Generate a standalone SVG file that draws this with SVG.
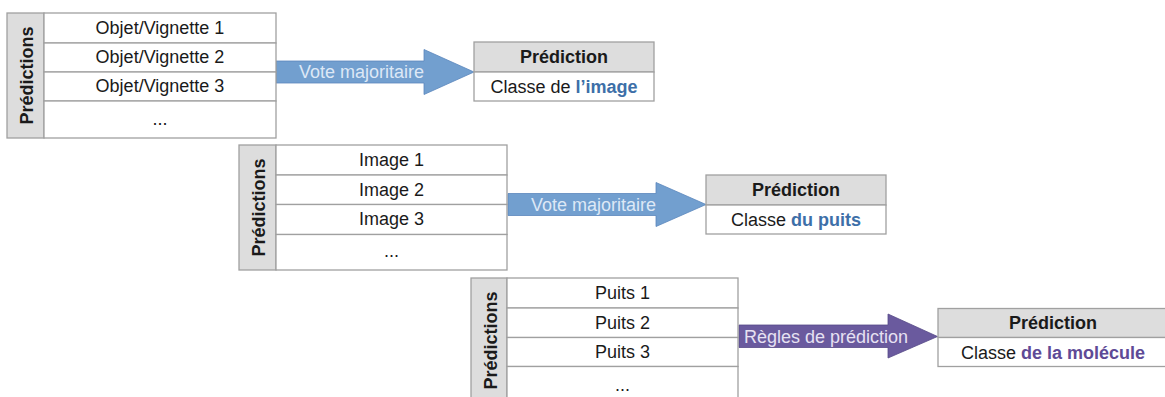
<svg xmlns="http://www.w3.org/2000/svg" width="1165" height="397" viewBox="0 0 1165 397">
<style>
text{font-family:"Liberation Sans",Arial,sans-serif;font-size:18px;fill:#1a1a1a}
.side{fill:#dddddd;stroke:#a0a0a0;stroke-width:1.3}
.cell{fill:#ffffff;stroke:#a0a0a0;stroke-width:1.3}
.hdr{fill:#dddddd;stroke:#a0a0a0;stroke-width:1.3}
.b{font-weight:bold}
.m{text-anchor:middle}
.blue{fill:#3d6fa8;font-weight:bold}
.purp{fill:#5e4a96;font-weight:bold}
.arrB{fill:#729fcf;stroke:#5a87bd;stroke-width:0.8}
.arrP{fill:#6a5a9e;stroke:#574a88;stroke-width:0.8}
.alB{fill:#dde8f6}
.alP{fill:#e6e1f2}
</style>
<g id="connectors">
<path class="arrB" d="M276,61 H424 V49.5 L474,72 L424,94.5 V83 H276 Z"/>
<text class="alB" x="299" y="78">Vote majoritaire</text>
<path class="arrB" d="M508,193.5 H656 V182.5 L706,204.5 L656,226.5 V215.5 H508 Z"/>
<text class="alB" x="531" y="210.5">Vote majoritaire</text>
<path class="arrP" d="M739,325 H888 V314 L937.5,336.5 L888,358 V347.5 H739 Z"/>
<text class="alP" x="744" y="342.5">Règles de prédiction</text>
</g>
<g id="table1">
<rect class="side" x="7" y="13" width="37" height="125"/>
<rect class="cell" x="44" y="13" width="232" height="30"/>
<rect class="cell" x="44" y="43" width="232" height="29"/>
<rect class="cell" x="44" y="72" width="232" height="29"/>
<rect class="cell" x="44" y="101" width="232" height="37"/>
<text class="b m" transform="translate(32.5,75.5) rotate(-90)">Prédictions</text>
<text class="m" x="160" y="33.5">Objet/Vignette 1</text>
<text class="m" x="160" y="63">Objet/Vignette 2</text>
<text class="m" x="160" y="92">Objet/Vignette 3</text>
<text class="m" x="160" y="125">...</text>
</g>
<g id="pred1">
<rect class="hdr" x="474" y="42" width="180" height="30"/>
<rect class="cell" x="474" y="72" width="180" height="29"/>
<text class="b m" x="564" y="62.5">Prédiction</text>
<text class="m" x="564" y="93">Classe de <tspan class="blue">l’image</tspan></text>
</g>
<g id="table2">
<rect class="side" x="239" y="145" width="37" height="125"/>
<rect class="cell" x="276" y="145" width="231" height="30"/>
<rect class="cell" x="276" y="175" width="231" height="29.5"/>
<rect class="cell" x="276" y="204.5" width="231" height="30"/>
<rect class="cell" x="276" y="234.5" width="231" height="35.5"/>
<text class="b m" transform="translate(264.5,207.5) rotate(-90)">Prédictions</text>
<text class="m" x="391.5" y="166">Image 1</text>
<text class="m" x="391.5" y="196">Image 2</text>
<text class="m" x="391.5" y="225">Image 3</text>
<text class="m" x="391.5" y="257">...</text>
</g>
<g id="pred2">
<rect class="hdr" x="706" y="175" width="180" height="30"/>
<rect class="cell" x="706" y="205" width="180" height="29"/>
<text class="b m" x="796" y="195.5">Prédiction</text>
<text class="m" x="796" y="226">Classe <tspan class="blue">du puits</tspan></text>
</g>
<g id="table3">
<rect class="side" x="471" y="278" width="36" height="125"/>
<rect class="cell" x="507" y="278" width="231" height="30"/>
<rect class="cell" x="507" y="308" width="231" height="29.5"/>
<rect class="cell" x="507" y="337.5" width="231" height="29"/>
<rect class="cell" x="507" y="366.5" width="231" height="36"/>
<text class="b m" transform="translate(496.5,340.5) rotate(-90)">Prédictions</text>
<text class="m" x="622.5" y="299">Puits 1</text>
<text class="m" x="622.5" y="329">Puits 2</text>
<text class="m" x="622.5" y="358">Puits 3</text>
<text class="m" x="622.5" y="391">...</text>
</g>
<g id="pred3">
<rect class="hdr" x="938" y="308.5" width="230" height="29"/>
<rect class="cell" x="938" y="337.5" width="230" height="29"/>
<text class="b m" x="1053" y="329">Prédiction</text>
<text class="m" x="1053" y="359">Classe <tspan class="purp">de la molécule</tspan></text>
</g>
</svg>
